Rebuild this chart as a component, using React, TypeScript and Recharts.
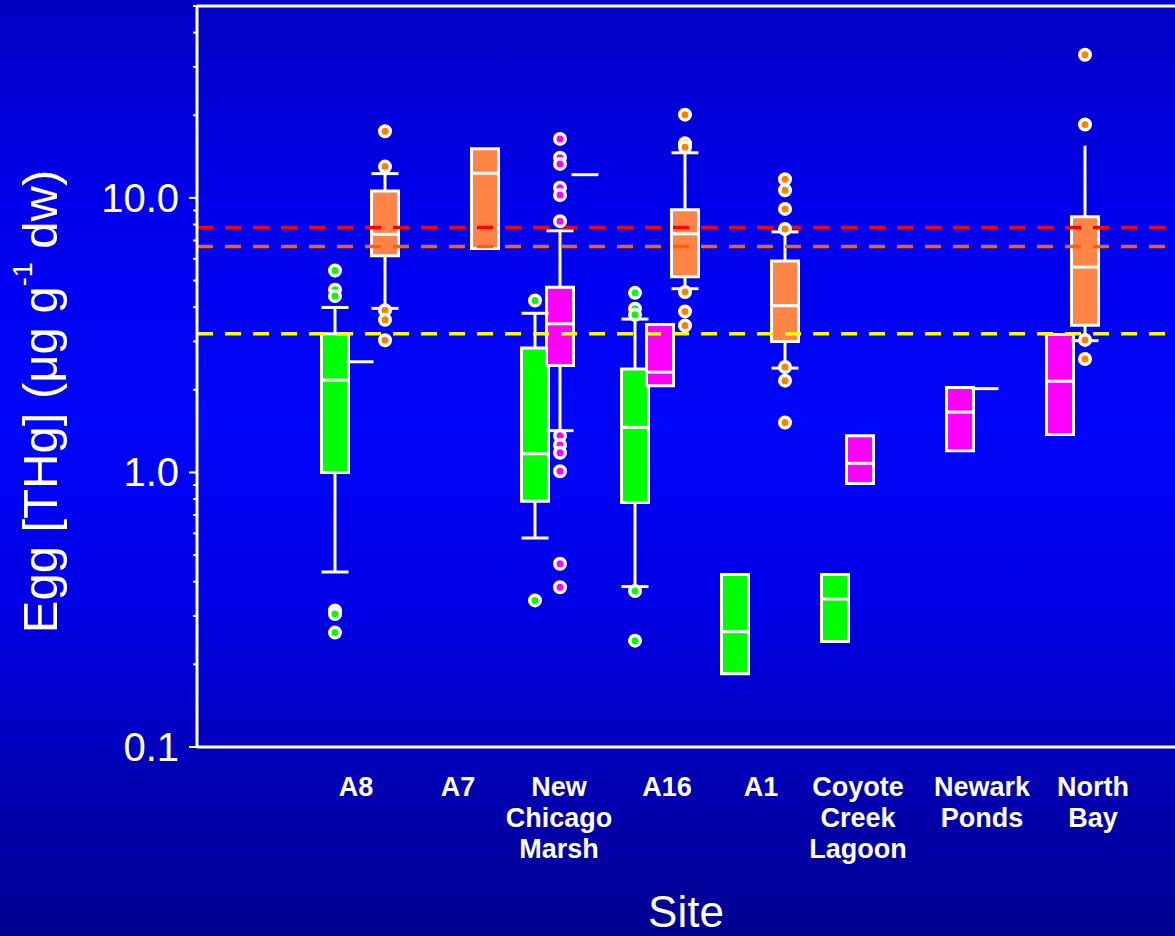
import React from "react";
import { ComposedChart, XAxis, YAxis, ReferenceArea, ReferenceLine, Scatter } from "recharts";

type Box = { site: string; lo?: number; q1: number; med: number; q3: number; hi?: number; hiCap?: boolean };
type Outliers = { site: string; values: number[] };

const SITES = ["A8", "A7", "New Chicago Marsh", "A16", "A1", "Coyote Creek Lagoon", "Newark Ponds", "North Bay"];

const Y_TICKS = [
  0.1, 0.2, 0.3, 0.4, 0.5, 0.6, 0.7, 0.8, 0.9, 1, 2, 3, 4, 5, 6, 7, 8, 9, 10, 20, 30, 40, 50,
];
const Y_LABELS: Record<string, string> = { "0.1": "0.1", "1": "1.0", "10": "10.0" };

const THRESHOLDS = [7.8, 6.65, 3.2];

const GREEN_BOXES: Box[] = [
  { site: "A8", lo: 0.434, q1: 1.0, med: 2.17, q3: 3.2, hi: 3.99 },
  { site: "New Chicago Marsh", lo: 0.577, q1: 0.786, med: 1.17, q3: 2.84, hi: 3.8 },
  { site: "A16", lo: 0.384, q1: 0.777, med: 1.46, q3: 2.38, hi: 3.62 },
  { site: "A1", q1: 0.185, med: 0.263, q3: 0.425 },
  { site: "Coyote Creek Lagoon", q1: 0.242, med: 0.346, q3: 0.425 },
];
const GREEN_OUTLIERS: Outliers[] = [
  { site: "A8", values: [5.44, 4.63, 4.39, 0.314, 0.305, 0.261] },
  { site: "New Chicago Marsh", values: [4.23, 0.342] },
  { site: "A16", values: [4.51, 3.95, 3.75, 0.37, 0.244] },
];

const MAGENTA_BOXES: Box[] = [
  { site: "A8", q1: 2.53, med: 2.53, q3: 2.53 },
  { site: "New Chicago Marsh", lo: 1.42, q1: 2.45, med: 3.48, q3: 4.73, hi: 7.59 },
  { site: "A16", q1: 2.07, med: 2.32, q3: 3.46 },
  { site: "Coyote Creek Lagoon", q1: 0.912, med: 1.08, q3: 1.36 },
  { site: "Newark Ponds", q1: 1.2, med: 1.66, q3: 2.04 },
  { site: "North Bay", q1: 1.375, med: 2.15, q3: 3.18 },
];
const MAGENTA_OUTLIERS: Outliers[] = [
  { site: "New Chicago Marsh", values: [16.4, 14.0, 13.3, 10.9, 10.25, 8.23, 1.36, 1.26, 1.18, 1.01, 0.465, 0.382] },
];

const ORANGE_BOXES: Box[] = [
  { site: "A8", lo: 3.96, q1: 6.15, med: 7.37, q3: 10.6, hi: 12.26 },
  { site: "A7", q1: 6.54, med: 12.3, q3: 15.1 },
  { site: "New Chicago Marsh", q1: 12.15, med: 12.15, q3: 12.15 },
  { site: "A16", lo: 4.67, q1: 5.16, med: 7.4, q3: 9.06, hi: 14.6 },
  { site: "A1", lo: 2.4, q1: 3.0, med: 4.05, q3: 5.89, hi: 7.52 },
  { site: "Newark Ponds", q1: 2.02, med: 2.02, q3: 2.02 },
  { site: "North Bay", lo: 3.02, q1: 3.44, med: 5.6, q3: 8.53, hi: 15.5, hiCap: false },
];
const ORANGE_OUTLIERS: Outliers[] = [
  { site: "A8", values: [17.5, 13.0, 3.9, 3.6, 3.03] },
  { site: "A16", values: [20.1, 15.8, 15.3, 4.54, 3.86, 3.43] },
  { site: "A1", values: [11.7, 10.66, 9.12, 7.7, 2.42, 2.16, 1.52] },
  { site: "North Bay", values: [33.2, 18.5, 3.04, 2.59] },
];

const GROUPS = [
  { name: "green", boxes: GREEN_BOXES, outliers: GREEN_OUTLIERS, offset: -0.25, fill: "#00ff00", dot: "#00ff00" },
  { name: "magenta", boxes: MAGENTA_BOXES, outliers: MAGENTA_OUTLIERS, offset: 0, fill: "#ff00ff", dot: "#ff00ff" },
  { name: "orange", boxes: ORANGE_BOXES, outliers: ORANGE_OUTLIERS, offset: 0.25, fill: "#ff8445", dot: "#ff7f00" },
];

const THRESHOLD_COLORS = ["#ff0000", "#ff6000", "#ffff00"];
const LABEL_NUDGE = [-4, -2, -1, 7, 1, -2, 22, 33];
const HALF = 0.135;
const FONT = "'Liberation Sans', Arial, Helvetica, sans-serif";

const YTick = (props: any) => {
  const { x, y, payload } = props;
  const label = Y_LABELS[String(payload.value)];
  const major = label !== undefined;
  return (
    <g>
      <line x1={x - (major ? 8 : 4)} x2={x} y1={y} y2={y} stroke="#fff" strokeWidth={2} />
      {major && (
        <text x={x - 18} y={y} textAnchor="end" dominantBaseline="central" fill="#fff" fontSize={40} fontFamily={FONT}>
          {label}
        </text>
      )}
    </g>
  );
};

const XTick = (props: any) => {
  const { x, y, payload } = props;
  const i = payload.value as number;
  const lines = (SITES[i] || "").split(" ");
  return (
    <text
      x={x + LABEL_NUDGE[i]}
      y={y + 49}
      textAnchor="middle"
      fill="#fff"
      fontSize={27}
      fontWeight="bold"
      fontFamily={FONT}
    >
      {lines.map((l, k) => (
        <tspan key={k} x={x + LABEL_NUDGE[i]} dy={k === 0 ? 0 : 31}>
          {l}
        </tspan>
      ))}
    </text>
  );
};

const YTitle = (props: any) => {
  const vb = props.viewBox;
  const cx = vb.x + 40;
  const cy = vb.y + vb.height / 2 + 25;
  return (
    <text
      x={cx}
      y={cy}
      transform={`rotate(-90 ${cx} ${cy})`}
      textAnchor="middle"
      dominantBaseline="central"
      fill="#fff"
      fontSize={49}
      fontFamily={FONT}
    >
      Egg [THg] (μg g
      <tspan dy={-17} fontSize={27}>-1</tspan>
      <tspan dy={17}> dw)</tspan>
    </text>
  );
};

const XTitle = (props: any) => {
  const vb = props.viewBox;
  return (
    <text x={vb.x + vb.width / 2} y={vb.y + 180} textAnchor="middle" fill="#fff" fontSize={44} fontFamily={FONT}>
      Site
    </text>
  );
};

export default function App() {
  const areas: React.ReactNode[] = [];
  const segs: React.ReactNode[] = [];
  const seg = (key: string, x1: number, y1: number, x2: number, y2: number) => (
    <ReferenceLine
      key={key}
      segment={[{ x: x1, y: y1 }, { x: x2, y: y2 }]}
      stroke="#fff"
      strokeWidth={3}
      ifOverflow="visible"
    />
  );

  GROUPS.forEach((g) => {
    g.boxes.forEach((b) => {
      const c = SITES.indexOf(b.site) + g.offset;
      const k = `${g.name}-${b.site}`;
      if (b.q1 === b.q3) {
        segs.push(seg(k + "-single", c - HALF, b.med, c + HALF, b.med));
        return;
      }
      areas.push(
        <ReferenceArea
          key={k + "-box"}
          x1={c - HALF}
          x2={c + HALF}
          y1={b.q1}
          y2={b.q3}
          fill={g.fill}
          fillOpacity={1}
          stroke="#fff"
          strokeWidth={3}
          ifOverflow="visible"
        />
      );
      segs.push(seg(k + "-med", c - HALF, b.med, c + HALF, b.med));
      if (b.lo !== undefined) {
        segs.push(seg(k + "-lo", c, b.lo, c, b.q1));
        segs.push(seg(k + "-locap", c - HALF, b.lo, c + HALF, b.lo));
      }
      if (b.hi !== undefined) {
        segs.push(seg(k + "-hi", c, b.q3, c, b.hi));
        if (b.hiCap !== false) segs.push(seg(k + "-hicap", c - HALF, b.hi, c + HALF, b.hi));
      }
    });
  });

  return (
    <div
      style={{
        position: "absolute",
        left: 0,
        top: 0,
        width: 1175,
        height: 936,
        background:
          "linear-gradient(to bottom, #0000c2 0%, #0000ec 22%, #0006fa 45%, #0000e6 65%, #0000b0 85%, #000090 100%)",
      }}
    >
      <ComposedChart width={1175} height={936} margin={{ top: 6, right: 0, bottom: 0, left: 0 }}>
        <XAxis
          type="number"
          dataKey="x"
          domain={[-1.63, 8.15]}
          allowDataOverflow
          ticks={SITES.map((_, i) => i)}
          interval={0}
          height={189}
          tick={<XTick />}
          tickLine={false}
          tickSize={0}
          tickMargin={0}
          axisLine={{ stroke: "#fff", strokeWidth: 3 }}
          label={{ content: <XTitle /> }}
        />
        <YAxis
          type="number"
          dataKey="y"
          scale="log"
          domain={[0.1, 50]}
          allowDataOverflow
          ticks={Y_TICKS}
          interval={0}
          width={197}
          tick={<YTick />}
          tickLine={false}
          tickSize={0}
          tickMargin={0}
          axisLine={{ stroke: "#fff", strokeWidth: 3 }}
          label={{ content: <YTitle /> }}
        />
        <ReferenceLine y={50} stroke="#fff" strokeWidth={3} ifOverflow="visible" />
        {areas}
        {segs}
        {THRESHOLDS.map((t, i) => (
          <ReferenceLine key={`t${i}`} y={t} stroke={THRESHOLD_COLORS[i]} strokeWidth={3.5} strokeDasharray="16 12" />
        ))}
        {GROUPS.map((g) => (
          <Scatter
            key={g.name}
            name={g.name}
            data={g.outliers.flatMap((o) => o.values.map((v) => ({ x: SITES.indexOf(o.site) + g.offset, y: v })))}
            isAnimationActive={false}
            shape={(p: any) => <circle cx={p.cx} cy={p.cy} r={5.25} fill={g.dot} stroke="#fff" strokeWidth={3.5} />}
          />
        ))}
      </ComposedChart>
    </div>
  );
}
